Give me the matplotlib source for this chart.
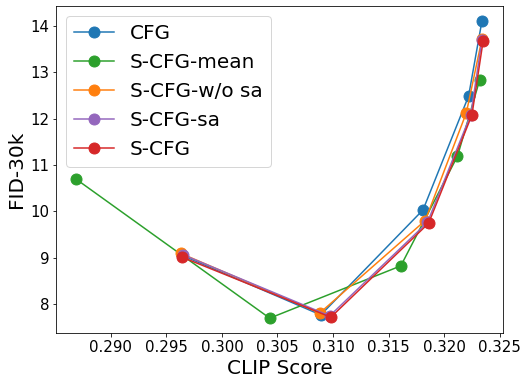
import matplotlib
matplotlib.use("Agg")
import matplotlib.pyplot as plt

# CLIP score / FID-30k per method
cfg_x = [0.2964, 0.3089, 0.3181, 0.3222, 0.3234]
cfg_y = [9.05, 7.76, 10.03, 12.49, 14.11]

mean_x = [0.2869, 0.3043, 0.3161, 0.3212, 0.3232]
mean_y = [10.69, 7.69, 8.82, 11.19, 12.84]

wosa_x = [0.2963, 0.3088, 0.3183, 0.3220, 0.3234]
wosa_y = [9.09, 7.80, 9.80, 12.13, 13.72]

sa_x = [0.2965, 0.3097, 0.3185, 0.3224, 0.3234]
sa_y = [9.06, 7.74, 9.76, 12.09, 13.70]

scfg_x = [0.2964, 0.3098, 0.3186, 0.3225, 0.3235]
scfg_y = [9.01, 7.71, 9.74, 12.08, 13.67]

fig = plt.figure(figsize=(526 / 72, 385 / 72), dpi=72)
ax = fig.add_axes([0.1065, 0.135, 0.8505, 0.849])

ms = 11
ax.plot(cfg_x, cfg_y, marker='o', markersize=ms, color='tab:blue', label='CFG')
ax.plot(mean_x, mean_y, marker='o', markersize=ms, color='tab:green', label='S-CFG-mean')
ax.plot(wosa_x, wosa_y, marker='o', markersize=ms, color='tab:orange', label='S-CFG-w/o sa')
ax.plot(sa_x, sa_y, marker='o', markersize=ms, color='tab:purple', label='S-CFG-sa')
ax.plot(scfg_x, scfg_y, marker='o', markersize=ms, color='tab:red', label='S-CFG')

ax.set_xticks([0.290, 0.295, 0.300, 0.305, 0.310, 0.315, 0.320, 0.325])
ax.tick_params(labelsize=15)
ax.set_xlabel('CLIP Score', fontsize=20)
ax.set_ylabel('FID-30k', fontsize=20)
ax.legend(loc='upper left', fontsize=20)

fig.savefig('out.png', dpi=72)
